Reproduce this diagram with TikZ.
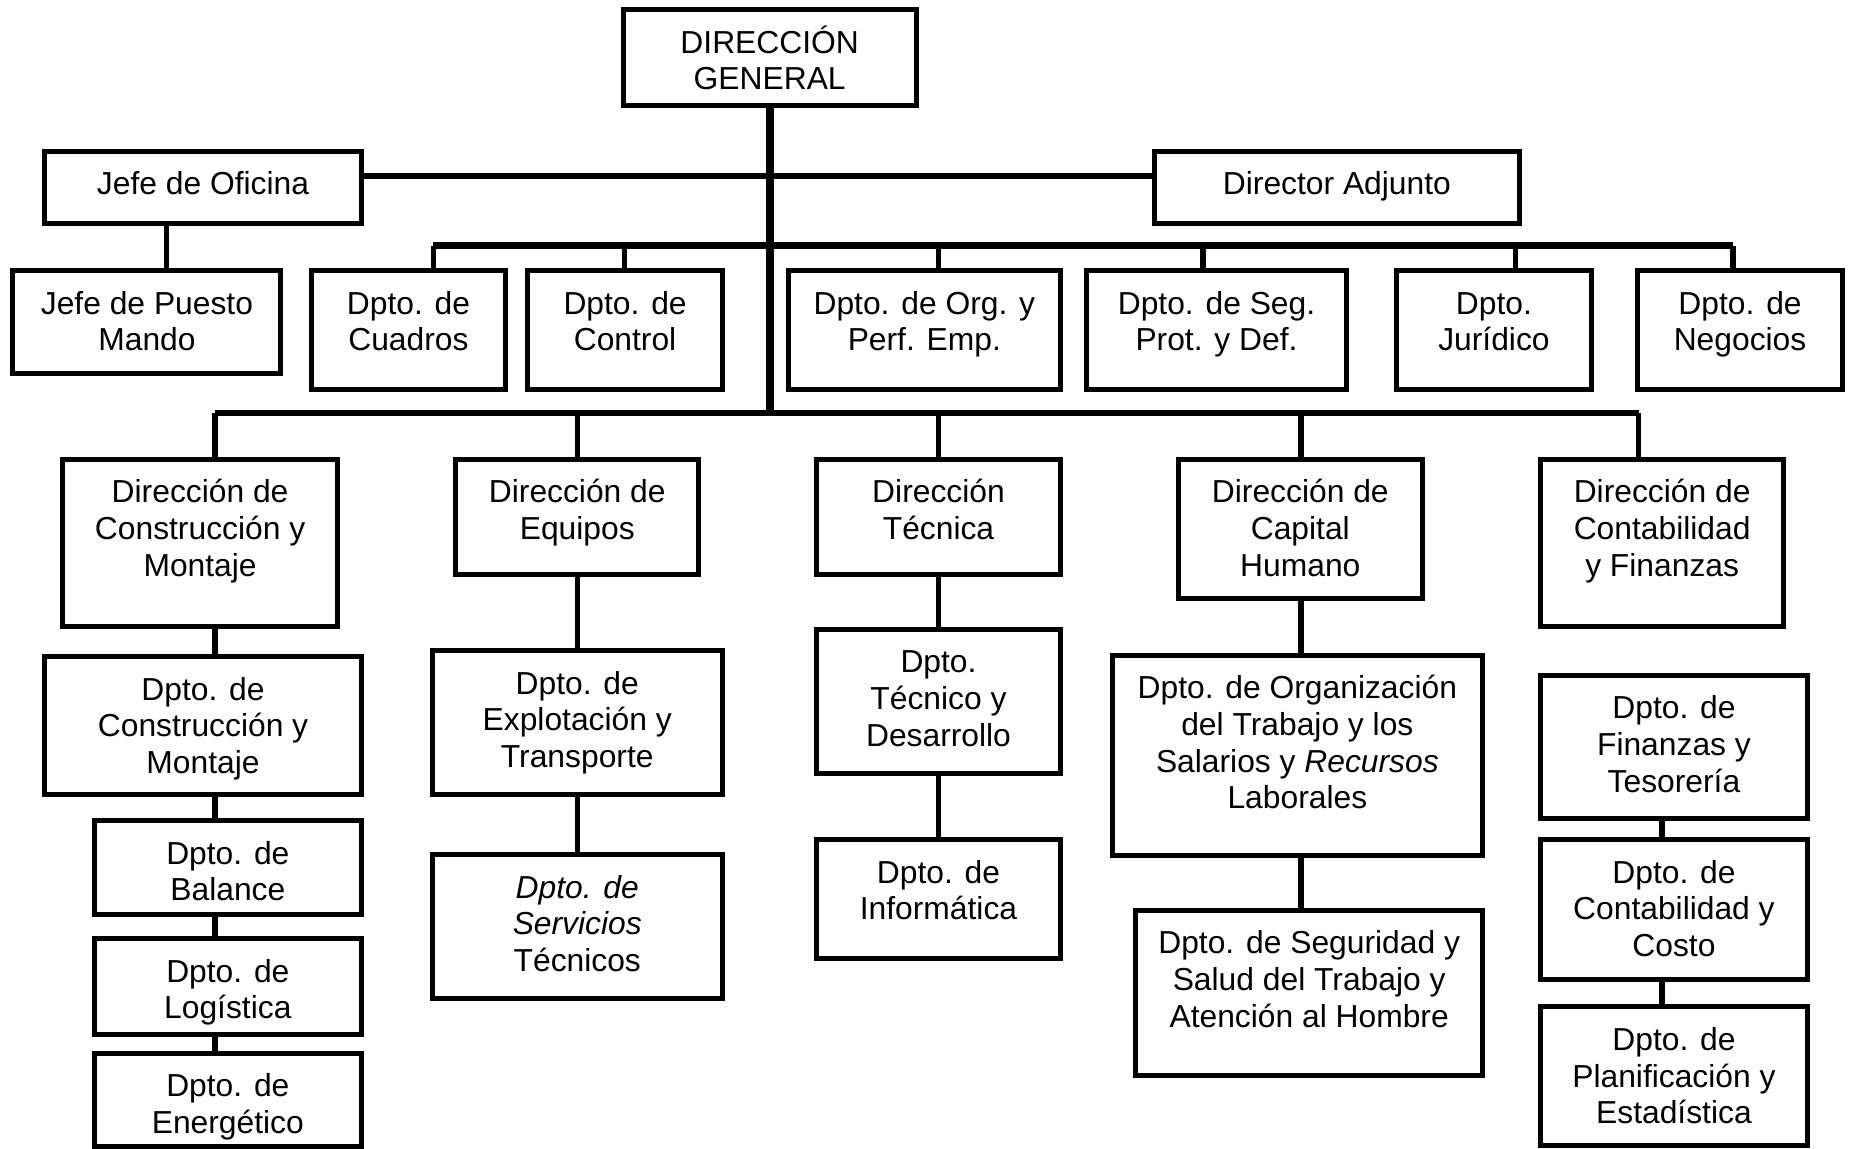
\documentclass[tikz,border=0pt]{standalone}
\usepackage{fontspec}
\setmainfont{Liberation Sans}
\usetikzlibrary{fit}

\tikzset{
  box/.style={draw=black, line width=2.5pt, rectangle, inner sep=0pt, outer sep=0pt},
  txt/.style={align=center, inner sep=0pt, outer sep=0pt, anchor=north,
              font=\fontsize{15.9pt}{18.3pt}\selectfont},
  conn/.style={line width=2.7pt},
  bar/.style={line width=3.4pt},
  trunk/.style={line width=4pt},
}

% #1 name, (#2,#3) top-left corner, (#4,#5) bottom-right corner, #6 text
\newcommand\orgbox[6]{%
  \coordinate (#1-nw) at (#2,#3);
  \coordinate (#1-se) at (#4,#5);
  \node[box, fit=(#1-nw)(#1-se)] (#1) {};
  \node[txt] (#1-t) at ([yshift=-5.85pt]#1.north) {\rule{0pt}{16pt}#6};
}

\begin{document}
\begin{tikzpicture}[x=0.5903pt, y=-0.5903pt]
\fill[white] (0,0) rectangle (1568,973);
\useasboundingbox (0,0) rectangle (1568,973);

% top management
\orgbox{dg}{528}{8}{776}{89}{DIRECCIÓN\\GENERAL}
\orgbox{jo}{38}{128}{306}{189}{Jefe de Oficina}
\orgbox{da}{978}{128}{1287}{189}{Director Adjunto}
\orgbox{jpm}{11}{229}{238}{316}{Jefe de Puesto\\Mando}

% staff departments
\orgbox{cua}{264}{229}{428}{330}{Dpto. de\\Cuadros}
\orgbox{con}{447}{229}{612}{330}{Dpto. de\\Control}
\orgbox{org}{668}{229}{898}{330}{Dpto. de Org. y\\Perf. Emp.}
\orgbox{seg}{920}{229}{1141}{330}{Dpto. de Seg.\\Prot. y Def.}
\orgbox{jur}{1183}{229}{1348}{330}{Dpto.\\Jurídico}
\orgbox{neg}{1387}{229}{1561}{330}{Dpto. de\\Negocios}

% line directorates
\orgbox{dcm}{53}{389}{286}{531}{Dirección de\\Construcción y\\Montaje}
\orgbox{deq}{386}{389}{592}{487}{Dirección de\\Equipos}
\orgbox{dte}{692}{389}{898}{487}{Dirección\\Técnica}
\orgbox{dch}{998}{389}{1205}{507}{Dirección de\\Capital\\Humano}
\orgbox{dcf}{1305}{389}{1511}{531}{Dirección de\\Contabilidad\\y Finanzas}

% departments under each directorate
\orgbox{pcm}{38}{556}{306}{673}{Dpto. de\\Construcción y\\Montaje}
\orgbox{bal}{80}{695}{306}{775}{Dpto. de\\Balance}
\orgbox{log}{80}{795}{306}{876}{Dpto. de\\Logística}
\orgbox{ene}{80}{892}{306}{971}{Dpto. de\\Energético}

\orgbox{exp}{366}{551}{612}{673}{Dpto. de\\Explotación y\\Transporte}
\orgbox{ser}{366}{724}{612}{846}{\textit{Dpto. de}\\\textit{Servicios}\\Técnicos}

\orgbox{tec}{692}{533}{898}{655}{Dpto.\\Técnico y\\Desarrollo}
\orgbox{inf}{692}{711}{898}{812}{Dpto. de\\Informática}

\orgbox{otr}{942}{555}{1256}{725}{Dpto. de Organización\\del Trabajo y los\\Salarios y \textit{Recursos}\\Laborales}
\orgbox{sst}{962}{771}{1256}{911}{Dpto. de Seguridad y\\Salud del Trabajo y\\Atención al Hombre}

\orgbox{fte}{1305}{572}{1531}{693}{Dpto. de\\Finanzas y\\Tesorería}
\orgbox{cco}{1305}{711}{1531}{830}{Dpto. de\\Contabilidad y\\Costo}
\orgbox{pes}{1305}{853}{1531}{970}{Dpto. de\\Planificación y\\Estadística}

% bus coordinates
\coordinate (lnk) at (652,149);
\coordinate (busA) at (652,208);
\coordinate (busB) at (652,350);

% main trunk
\draw[trunk] (dg.south) -- (busB);

% link between office chief and deputy director
\draw[conn, line width=2.8pt] (jo.east |- lnk) -- (da.west |- lnk);

% office chief to post chief
\coordinate (xjo) at (141,0);
\draw[conn] (jo.south -| xjo) -- (jpm.north -| xjo);

% staff departments bus
\foreach \n/\x in {cua/367, con/529, org/795, seg/1019, jur/1284, neg/1468}{
  \coordinate (dA-\n) at (\x,208);
  \draw[conn] (dA-\n) -- (dA-\n |- \n.north);
}
\draw[bar] (dA-cua) -- (dA-neg);

% directorates bus
\foreach \n/\x in {dcm/182, deq/489, dte/795, dch/1102, dcf/1388}{
  \coordinate (dB-\n) at (\x,350);
  \draw[conn] (dB-\n) -- (dB-\n |- \n.north);
}
\draw[conn, line width=3pt] (dB-dcm) -- (dB-dcf);

% column chains
\coordinate (x1) at (182,0);
\draw[conn] (dcm.south -| x1) -- (pcm.north -| x1);
\draw[conn] (pcm.south -| x1) -- (bal.north -| x1);
\draw[conn] (bal.south -| x1) -- (log.north -| x1);
\draw[conn] (log.south -| x1) -- (ene.north -| x1);

\draw[conn] (deq.south) -- (exp.north);
\draw[conn] (exp.south) -- (ser.north);

\draw[conn] (dte.south) -- (tec.north);
\draw[conn] (tec.south) -- (inf.north);

\coordinate (x4) at (1102,0);
\draw[conn] (dch.south -| x4) -- (otr.north -| x4);
\draw[conn] (otr.south -| x4) -- (sst.north -| x4);

\coordinate (x5) at (1408,0);
\draw[conn] (fte.south -| x5) -- (cco.north -| x5);
\draw[conn] (cco.south -| x5) -- (pes.north -| x5);
\end{tikzpicture}
\end{document}
